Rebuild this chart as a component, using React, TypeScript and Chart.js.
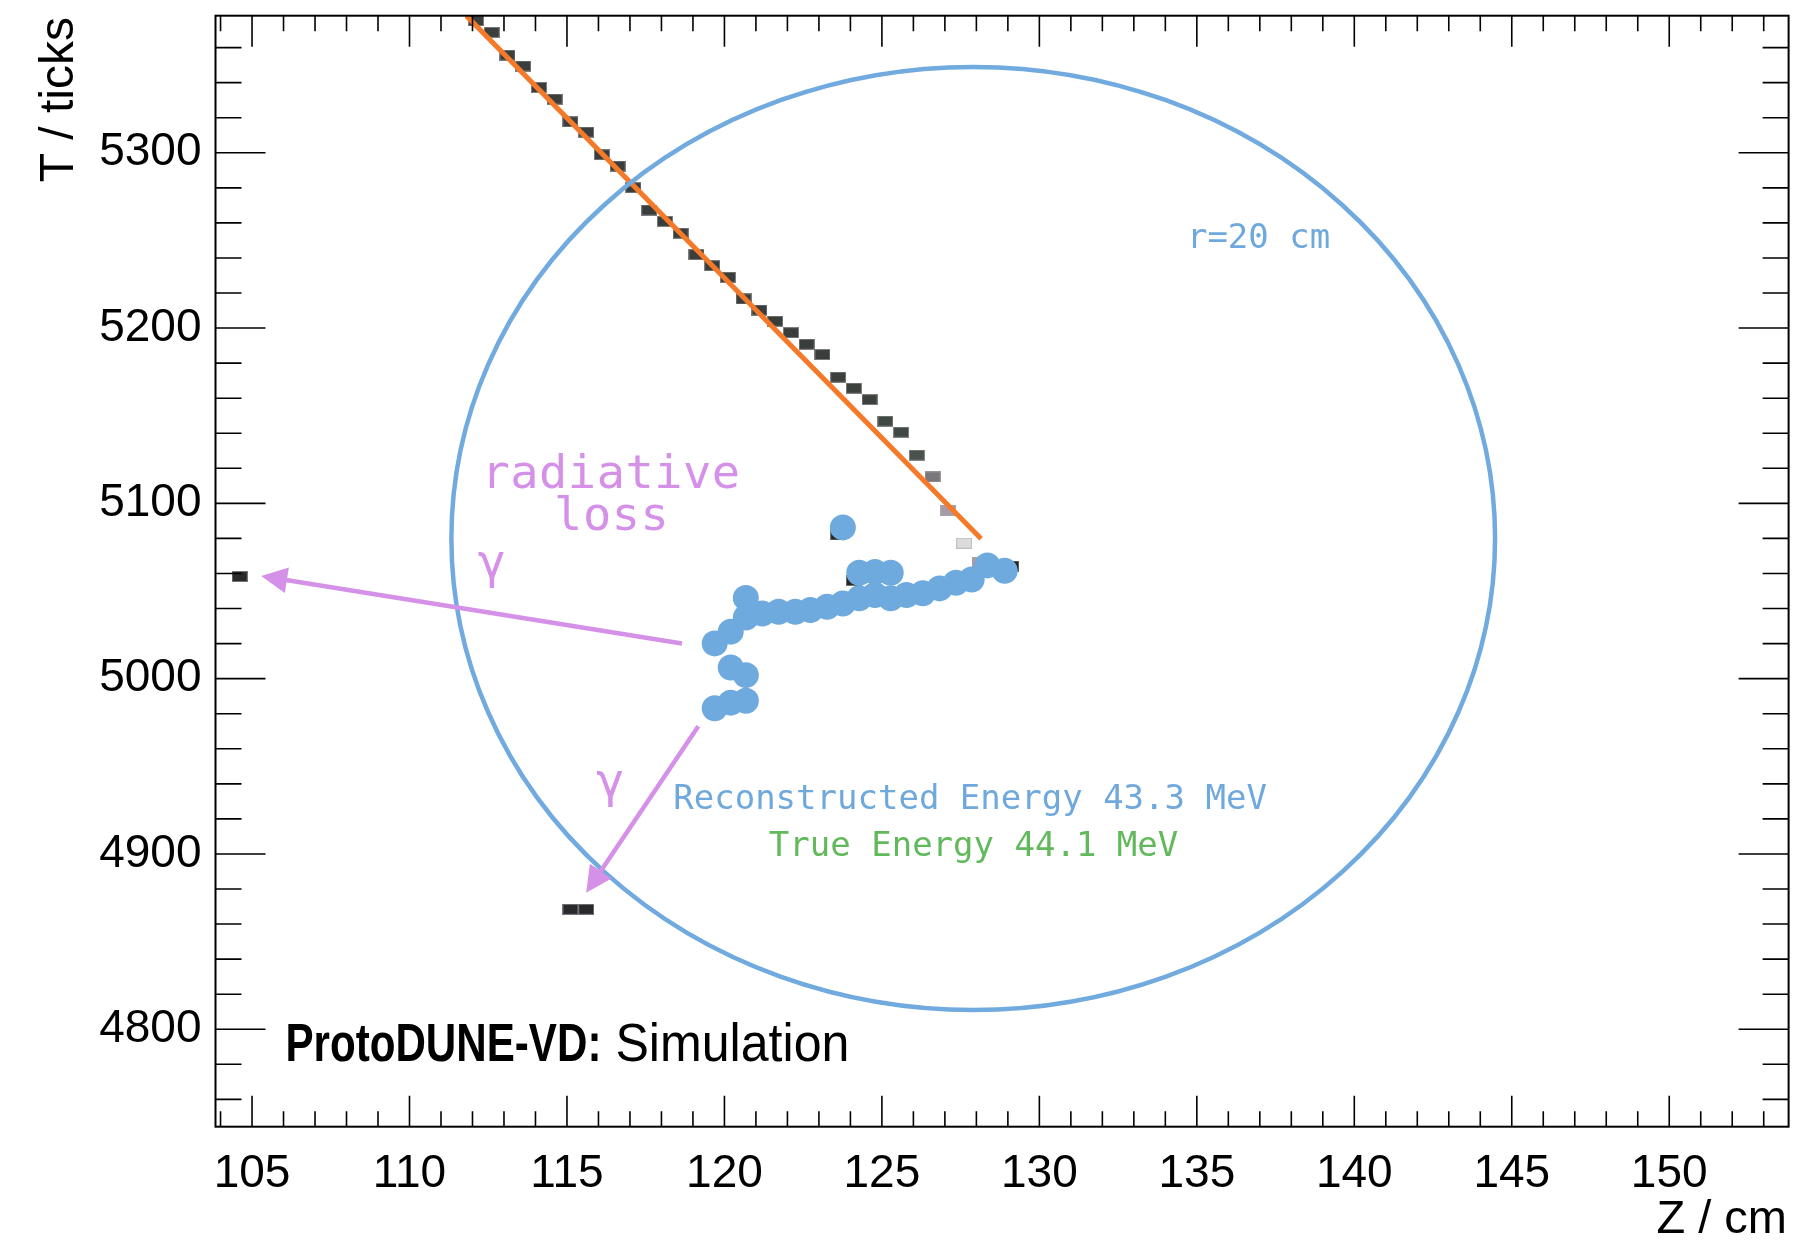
import React, { useEffect, useRef } from 'react';
import { Chart, registerables } from 'chart.js';

Chart.register(...registerables);

// ---------- axis ranges & ticks ----------
const X_MIN = 103.84;
const X_MAX = 153.79;
const Y_MIN = 4744.4;
const Y_MAX = 5378.2;
const X_TICKS = [105, 110, 115, 120, 125, 130, 135, 140, 145, 150];
const Y_TICKS = [4800, 4900, 5000, 5100, 5200, 5300];
const X_MINOR_STEP = 1;
const Y_MINOR_STEP = 20;

// ---------- collection-plane hits (Z / cm, T / ticks) ----------
const HIT_Z = [
  112.11, 112.61, 113.11, 113.61, 114.11, 114.61, 115.11, 115.61,
  116.11, 116.61, 117.11, 117.61, 118.11, 118.61, 119.11, 119.61,
  120.11, 120.61, 121.11, 121.61, 122.11, 122.61, 123.11, 123.61,
  124.11, 124.61, 125.11, 125.61, 126.11, 126.61, 127.11, 127.61,
  129.11, 104.61, 115.11, 115.61, 123.61, 124.11, 128.11,
];
const HIT_T = [
  5375.3, 5368.7, 5355.7, 5349.5, 5337.3, 5330.6, 5317.7, 5311.8,
  5298.9, 5292.4, 5280.1, 5267.3, 5260.9, 5254.1, 5241.9, 5235.6,
  5229.0, 5216.6, 5210.3, 5203.9, 5197.4, 5190.8, 5184.9, 5172.0,
  5165.7, 5159.2, 5146.9, 5140.6, 5127.5, 5115.1, 5095.9, 5077.3,
  5064.2, 5058.3, 4868.4, 4868.4, 5082.0, 5056.0, 5066.0,
];
const HIT_SHADE = [
  '#3a3e3c', '#3a3e3c', '#3a3e3c', '#3a3e3c', '#3a3e3c', '#3a3e3c', '#3a3e3c', '#3a3e3c',
  '#393d3b', '#393d3b', '#393d3b', '#393d3b', '#393d3b', '#393d3b', '#393d3b', '#393d3b',
  '#393d3b', '#393d3b', '#393d3b', '#393d3b', '#393d3b', '#393d3b', '#393d3b', '#3c413e',
  '#3c413e', '#3c413e', '#414944', '#414944', '#4a524d', '#7b787d', '#a699a8', '#dcdcdc',
  '#262626', '#2a2a2a', '#2a2a2e', '#2a2a2e', '#262626', '#262626', '#a699a8',
];

// ---------- reconstructed space points ----------
const SP_Z = [
  119.69, 120.20, 120.68, 120.68, 121.20, 121.72, 122.25, 122.73, 123.26, 123.76,
  124.28, 124.78, 125.28, 125.78, 126.30, 126.83, 127.35, 127.85, 128.35, 128.90,
  124.28, 124.78, 125.28, 123.76, 120.20, 120.68, 119.69, 120.20, 120.68,
];
const SP_T = [
  5020.1, 5026.8, 5034.9, 5046.0, 5037.2, 5038.2, 5038.2, 5039.1, 5041.0, 5042.9,
  5045.8, 5047.7, 5045.8, 5047.7, 5048.7, 5051.5, 5054.7, 5056.6, 5064.6, 5061.5,
  5060.4, 5060.8, 5060.4, 5086.3, 5006.4, 5002.0, 4983.1, 4986.3, 4987.4,
];

// ---------- track fit ----------
const FIT_Z = [111.81, 128.15];
const FIT_T = [5378.1, 5079.8];

// ---------- r = 20 cm region ----------
const CIRCLE_Z = 127.9;
const CIRCLE_T = 5080.0;
const CIRCLE_RZ = 16.57;
const CIRCLE_RT = 269.0;

// ---------- photon arrows ----------
const ARROW_FROM_Z = [118.65, 119.17];
const ARROW_FROM_T = [5020.1, 4972.9];
const ARROW_TO_Z = [105.29, 115.61];
const ARROW_TO_T = [5058.5, 4877.9];

// ---------- annotations ----------
const NOTE_TEXT = ['r=20 cm', 'radiative', 'loss', 'γ', 'γ', 'Reconstructed Energy 43.3 MeV', 'True Energy 44.1 MeV'];
const NOTE_Z = [136.96, 116.40, 116.42, 112.62, 116.38, 127.80, 127.91];
const NOTE_T = [5245.5, 5108.6, 5084.8, 5057.4, 4932.6, 4925.4, 4898.8];

const BLUE = '#6eaadd';
const BLUE_TEXT = '#6fa8dc';
const ORANGE = '#f47a2a';
const VIOLET = '#d590e8';
const GREEN = '#62b95b';
const NOTE_COLOR = [BLUE_TEXT, VIOLET, VIOLET, VIOLET, VIOLET, BLUE_TEXT, GREEN];
const NOTE_SIZE = [34, 47, 47, 47, 47, 34, 34];
const NOTE_SPACING = [0, 0.5, 0.5, 0, 0, 0, 0];

const SANS = '"Liberation Sans", Arial, Helvetica, sans-serif';
const MONO = '"DejaVu Sans Mono", "Liberation Mono", monospace';

function makeHit(color: string): HTMLCanvasElement {
  const c = document.createElement('canvas');
  c.width = 16;
  c.height = 11;
  const g = c.getContext('2d')!;
  g.fillStyle = color;
  g.fillRect(0, 0, 16, 11);
  g.strokeStyle = 'rgba(170,170,170,0.6)';
  g.lineWidth = 1;
  g.strokeRect(0.5, 0.5, 15, 10);
  return c;
}

const overlay = {
  id: 'overlay',
  afterDatasetsDraw(chart: any) {
    const { ctx, chartArea: a } = chart;
    const xs = chart.scales.x;
    const ys = chart.scales.y;
    const px = (v: number) => xs.getPixelForValue(v);
    const py = (v: number) => ys.getPixelForValue(v);

    ctx.save();
    ctx.beginPath();
    ctx.rect(a.left, a.top, a.right - a.left, a.bottom - a.top);
    ctx.clip();

    // circle
    const cx = px(CIRCLE_Z);
    const cy = py(CIRCLE_T);
    const rx = Math.abs(px(CIRCLE_Z + CIRCLE_RZ) - cx);
    const ry = Math.abs(py(CIRCLE_T + CIRCLE_RT) - cy);
    ctx.beginPath();
    ctx.ellipse(cx, cy, rx, ry, 0, 0, Math.PI * 2);
    ctx.strokeStyle = '#70aade';
    ctx.lineWidth = 4.5;
    ctx.stroke();

    // arrows
    ctx.strokeStyle = VIOLET;
    ctx.fillStyle = VIOLET;
    ctx.lineWidth = 4.5;
    for (let i = 0; i < ARROW_FROM_Z.length; i++) {
      const x0 = px(ARROW_FROM_Z[i]);
      const y0 = py(ARROW_FROM_T[i]);
      const x1 = px(ARROW_TO_Z[i]);
      const y1 = py(ARROW_TO_T[i]);
      const ang = Math.atan2(y1 - y0, x1 - x0);
      const c = Math.cos(ang);
      const s = Math.sin(ang);
      const L = 26;
      const W = 13;
      const bx = x1 - L * c;
      const by = y1 - L * s;
      ctx.beginPath();
      ctx.moveTo(x0, y0);
      ctx.lineTo(bx + 4 * c, by + 4 * s);
      ctx.stroke();
      ctx.beginPath();
      ctx.moveTo(x1, y1);
      ctx.lineTo(bx - W * s, by + W * c);
      ctx.lineTo(bx + W * s, by - W * c);
      ctx.closePath();
      ctx.fill();
    }

    // annotations
    ctx.textAlign = 'center';
    ctx.textBaseline = 'alphabetic';
    for (let i = 0; i < NOTE_TEXT.length; i++) {
      ctx.font = `${NOTE_SIZE[i]}px ${MONO}`;
      (ctx as any).letterSpacing = `${NOTE_SPACING[i]}px`;
      ctx.fillStyle = NOTE_COLOR[i];
      ctx.fillText(NOTE_TEXT[i], px(NOTE_Z[i]), py(NOTE_T[i]));
    }
    (ctx as any).letterSpacing = '0px';

    // ProtoDUNE-VD label
    const lx = px(106.06);
    const ly = py(4782.0);
    ctx.fillStyle = '#000';
    ctx.textAlign = 'left';
    ctx.font = `bold 53px ${SANS}`;
    const bw = ctx.measureText('ProtoDUNE-VD:').width;
    ctx.save();
    ctx.translate(lx, ly);
    ctx.scale(316 / bw, 1);
    ctx.fillText('ProtoDUNE-VD:', 0, 0);
    ctx.restore();
    ctx.font = `53px ${SANS}`;
    const rw = ctx.measureText('Simulation').width;
    ctx.save();
    ctx.translate(lx + 330, ly);
    ctx.scale(234 / rw, 1);
    ctx.fillText('Simulation', 0, 0);
    ctx.restore();

    ctx.restore();
  },
  afterDraw(chart: any) {
    const { ctx, chartArea: a } = chart;
    const xs = chart.scales.x;
    const ys = chart.scales.y;
    ctx.save();
    ctx.strokeStyle = '#000';

    // tick marks (inside, all four sides)
    ctx.lineWidth = 1.6;
    ctx.beginPath();
    const xStart = Math.ceil(X_MIN / X_MINOR_STEP) * X_MINOR_STEP;
    for (let v = xStart; v <= X_MAX + 1e-9; v += X_MINOR_STEP) {
      const major = X_TICKS.includes(Math.round(v * 1000) / 1000);
      const len = major ? 31 : 15.5;
      const p = xs.getPixelForValue(v);
      ctx.moveTo(p, a.bottom);
      ctx.lineTo(p, a.bottom - len);
      ctx.moveTo(p, a.top);
      ctx.lineTo(p, a.top + len);
    }
    const yStart = Math.ceil(Y_MIN / Y_MINOR_STEP) * Y_MINOR_STEP;
    for (let v = yStart; v <= Y_MAX + 1e-9; v += Y_MINOR_STEP) {
      const major = Y_TICKS.includes(v);
      const len = major ? 50 : 26;
      const p = ys.getPixelForValue(v);
      ctx.moveTo(a.left, p);
      ctx.lineTo(a.left + len, p);
      ctx.moveTo(a.right, p);
      ctx.lineTo(a.right - len, p);
    }
    ctx.stroke();

    // frame
    ctx.lineWidth = 2;
    ctx.strokeRect(a.left, a.top, a.right - a.left, a.bottom - a.top);

    // axis titles
    ctx.fillStyle = '#000';
    ctx.font = `48px ${SANS}`;
    ctx.save();
    ctx.translate(a.left - 142.5, a.top + 1.3);
    ctx.rotate(-Math.PI / 2);
    ctx.textAlign = 'right';
    ctx.textBaseline = 'alphabetic';
    ctx.fillText('T / ticks', 0, 0);
    ctx.restore();

    ctx.font = `47px ${SANS}`;
    ctx.textAlign = 'right';
    ctx.textBaseline = 'alphabetic';
    ctx.fillText('Z / cm', a.right - 1.6, a.bottom + 106.3);
    ctx.restore();
  },
};

export default function App() {
  const ref = useRef<HTMLCanvasElement>(null);

  useEffect(() => {
    const canvas = ref.current;
    if (!canvas) return;
    const hitImgs = HIT_SHADE.map(makeHit);

    const chart = new Chart(canvas, {
      type: 'scatter',
      data: {
        datasets: [
          {
            type: 'scatter',
            label: 'Space points',
            data: SP_Z.map((x, i) => ({ x, y: SP_T[i] })),
            pointRadius: 13,
            pointHoverRadius: 13,
            backgroundColor: BLUE,
            borderWidth: 0,
            order: 1,
          } as any,
          {
            type: 'line',
            label: 'Track fit',
            data: FIT_Z.map((x, i) => ({ x, y: FIT_T[i] })),
            borderColor: ORANGE,
            borderWidth: 5,
            pointRadius: 0,
            fill: false,
            tension: 0,
            order: 2,
          } as any,
          {
            type: 'scatter',
            label: 'Hits',
            data: HIT_Z.map((x, i) => ({ x, y: HIT_T[i] })),
            pointStyle: (c: any) => hitImgs[c.dataIndex],
            pointRadius: 8,
            pointHoverRadius: 8,
            order: 3,
          } as any,
        ],
      },
      options: {
        responsive: false,
        animation: false,
        devicePixelRatio: 1,
        events: [],
        layout: { padding: { top: 15.7, right: 14.4, left: 0, bottom: 0 } },
        plugins: {
          legend: { display: false },
          tooltip: { enabled: false },
          title: { display: false },
        },
        scales: {
          x: {
            type: 'linear',
            min: X_MIN,
            max: X_MAX,
            afterFit: (s: any) => {
              s.height = 116.3;
              s.paddingLeft = 0;
              s.paddingRight = 0;
              s.paddingTop = 0;
              s.paddingBottom = 0;
            },
            afterBuildTicks: (s: any) => {
              s.ticks = X_TICKS.map((v) => ({ value: v }));
            },
            grid: { display: false, drawTicks: false },
            border: { display: false },
            ticks: {
              autoSkip: false,
              maxRotation: 0,
              minRotation: 0,
              padding: 20.5,
              color: '#000',
              font: { family: SANS, size: 46 },
              callback: (v: any) => String(v),
            },
          },
          y: {
            type: 'linear',
            min: Y_MIN,
            max: Y_MAX,
            afterFit: (s: any) => {
              s.width = 215.5;
              s.paddingLeft = 0;
              s.paddingRight = 0;
              s.paddingTop = 0;
              s.paddingBottom = 0;
            },
            afterBuildTicks: (s: any) => {
              s.ticks = Y_TICKS.map((v) => ({ value: v }));
            },
            grid: { display: false, drawTicks: false },
            border: { display: false },
            ticks: {
              autoSkip: false,
              padding: 14,
              color: '#000',
              font: { family: SANS, size: 46 },
              callback: (v: any) => String(v),
            },
          },
        },
      } as any,
      plugins: [overlay],
    });

    return () => chart.destroy();
  }, []);

  return (
    <div style={{ position: 'fixed', left: 0, top: 0, width: 1803, height: 1243, background: '#fff' }}>
      <canvas ref={ref} width={1803} height={1243} style={{ display: 'block' }} />
    </div>
  );
}
